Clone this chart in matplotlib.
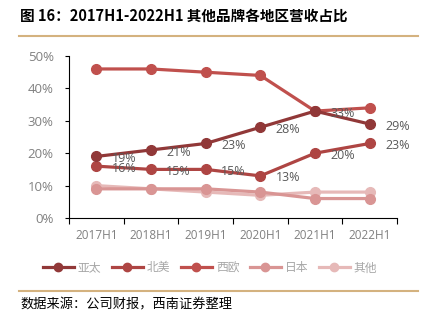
import matplotlib
matplotlib.use("Agg")
import matplotlib.pyplot as plt
from matplotlib.lines import Line2D

plt.rcParams['font.family'] = ['Noto Sans CJK SC', 'DejaVu Sans']

categories = ["2017H1", "2018H1", "2019H1", "2020H1", "2021H1", "2022H1"]
series_names = ["亚太", "北美", "西欧", "日本", "其他"]
apac = [19, 21, 23, 28, 33, 29]
na = [16, 15, 15, 13, 20, 23]
weu = [46, 46, 45, 44, 33, 34]
japan = [9, 9, 9, 8, 6, 6]
other = [10, 9, 8, 7, 8, 8]
colors = ["#913838", "#AE4543", "#C0504D", "#D99594", "#E6B9B8"]
y_ticks = [0, 10, 20, 30, 40, 50]

values = [apac, na, weu, japan, other]
labeled = [True, True, False, False, False]

fig = plt.figure(figsize=(4.29, 3.22), dpi=100)
ax = fig.add_axes([69/429, 1-218/322, (397-69)/429, (218-56)/322])

x = list(range(len(categories)))
for i in reversed(range(len(values))):
    ax.plot(x, values[i], color=colors[i], lw=2.3, marker='o', ms=7, zorder=3+(5-i))

for i in range(len(values)):
    if labeled[i]:
        for xi, v in zip(x, values[i]):
            ax.annotate(f"{v}%", (xi, v), xytext=(11, -1.5), textcoords='offset points',
                        ha='left', va='center', fontsize=9, color='#595959',
                        family=['Open Sans', 'DejaVu Sans'], zorder=10)

ax.set_xlim(-0.5, len(categories)-0.5)
ax.set_ylim(0, 50)
ax.set_yticks(y_ticks)
ax.set_yticklabels([f"{t}%" for t in y_ticks], family=['Open Sans', 'DejaVu Sans'])
ax.set_xticks([i - 0.5 for i in range(len(categories)+1)])
ax.set_xticklabels([])
ax.set_xticks(x, minor=True)
ax.set_xticklabels(categories, minor=True, family=['Open Sans', 'DejaVu Sans'])
ax.tick_params(axis='x', which='major', length=4, direction='out', color='#000000')
ax.tick_params(axis='x', which='minor', length=0, pad=8, labelsize=8.5, labelcolor='#808080')
ax.tick_params(axis='y', length=3, direction='out', labelsize=9.5, labelcolor='#808080', pad=8)
for s in ['top', 'right']:
    ax.spines[s].set_visible(False)
ax.spines['left'].set_color('#000000')
ax.spines['bottom'].set_color('#000000')

handles = [Line2D([0], [0], color=c, lw=2.3, marker='o', ms=6) for c in colors]
fig.legend(handles, series_names, loc='center', bbox_to_anchor=(0.49, 1-268/322), ncol=5,
           frameon=False, fontsize=8.5, labelcolor='#A6A6A6', handlelength=2.6,
           columnspacing=0.9, handletextpad=0.35)

fig.text(20/429, 1-16/322, "图 16：2017H1-2022H1 其他品牌各地区营收占比", fontsize=10.5,
         fontweight='bold', ha='left', va='center', color='#000000')
fig.add_artist(Line2D([19/429, 418/429], [1-36/322, 1-36/322], color='#D4B27F', lw=1.5))
fig.add_artist(Line2D([19/429, 418/429], [1-291/322, 1-291/322], color='#D4B27F', lw=1.5))
fig.text(20/429, 1-305/322, "数据来源：公司财报，西南证券整理", fontsize=9.5,
         style='italic', ha='left', va='center', color='#000000')

fig.savefig("out.png", dpi=100)
